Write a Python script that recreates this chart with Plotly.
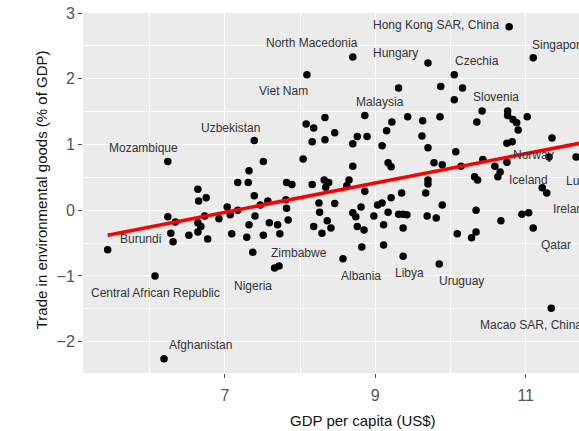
import plotly.graph_objects as go

# log GDP per capita (x) and trade in environmental goods, % of GDP (y)
gdp_log = [
    5.44, 6.07, 6.19, 6.24, 6.24, 6.34, 6.28, 6.31, 6.52, 6.64,
    6.65, 6.75, 6.64, 6.68, 6.64, 6.77, 6.73, 6.92, 7.03, 7.07,
    7.09, 7.17, 7.31, 7.17, 7.39, 7.40, 7.32, 7.29, 7.37, 7.51,
    7.59, 7.57, 7.70, 7.73, 7.82, 7.89, 7.81, 7.82, 7.84, 7.66,
    7.72, 7.39, 7.51, 7.32, 7.47, 8.09, 8.70, 8.33, 8.08, 8.18,
    8.46, 8.16, 8.33, 8.86, 8.76, 8.70, 8.89, 8.04, 8.70, 8.16,
    8.32, 8.38, 8.34, 8.65, 8.62, 8.86, 8.25, 8.46, 8.26, 8.36,
    8.18, 8.29, 8.41, 8.57, 8.70, 8.74, 8.81, 8.76, 8.85, 8.82,
    9.03, 8.98, 9.70, 9.31, 9.87, 10.05, 10.05, 9.22, 9.15, 9.43,
    9.63, 9.86, 9.62, 9.70, 9.09, 10.07, 9.17, 9.21, 9.78, 9.89,
    9.70, 9.70, 9.35, 9.67, 9.21, 9.11, 9.17, 9.11, 9.31, 9.37,
    9.42, 9.37, 9.37, 9.69, 9.81, 9.85, 9.89, 9.09, 10.14, 10.78,
    11.10, 10.16, 10.42, 10.35, 10.76, 10.76, 10.83, 10.88, 10.90, 11.02,
    10.75, 10.82, 11.35, 10.43, 10.59, 10.75, 10.66, 10.63, 10.32, 10.36,
    11.31, 11.67, 11.22, 11.28, 10.34, 10.09, 10.28, 10.34, 10.67, 10.95,
    11.04, 11.10, 11.34,
]
env_trade = [
    -0.60, -1.00, -2.26, 0.74, -0.10, -0.18, -0.35, -0.48, -0.38, 0.32,
    0.14, 0.19, -0.19, -0.25, -0.33, -0.44, -0.09, -0.13, 0.05, -0.07,
    -0.36, 0.42, 0.42, 0.00, 0.22, -0.09, -0.22, -0.41, -0.64, -0.38,
    -0.19, 0.14, -0.22, -0.36, 0.42, 0.39, 0.16, 0.03, -0.15, -0.88,
    -0.85, 1.06, 0.74, 0.60, 0.08, 2.06, 2.33, 1.41, 1.31, 1.25,
    1.18, 1.04, 1.07, 1.44, 1.12, 1.01, 1.12, 0.78, 0.67, 0.39,
    0.46, 0.42, 0.35, 0.46, 0.37, 0.29, 0.11, 0.10, -0.03, -0.16,
    -0.25, -0.35, -0.27, -0.74, -0.04, -0.10, 0.05, -0.25, -0.30, -0.56,
    0.08, -0.09, 2.24, 1.86, 1.88, 2.06, 1.68, 1.34, 1.21, 1.42,
    1.36, 1.42, 1.13, 0.95, 0.98, 0.89, 0.72, 0.66, 0.72, 0.69,
    0.46, 0.40, 0.26, 0.26, 0.19, -0.22, -0.03, -0.53, -0.06, -0.06,
    -0.07, -0.27, -0.70, -0.09, -0.12, -0.82, 0.08, 0.11, 0.67, 2.79,
    2.32, 1.86, 1.51, 1.34, 1.51, 1.44, 1.38, 1.33, 1.22, 1.42,
    1.02, 1.04, 1.10, 0.77, 0.67, 0.73, 0.58, 0.51, 0.51, 0.46,
    0.81, 0.81, 0.34, 0.26, 0.00, -0.36, -0.42, -0.33, -0.16, -0.06,
    -0.04, -0.27, -1.49,
]

# linear trend (lm fit) end points
trend_x = [5.44, 11.90]
trend_y = [-0.38, 1.06]

# country labels
label_names = [
    "Hong Kong SAR, China", "Singapore", "North Macedonia", "Hungary", "Czechia",
    "Viet Nam", "Malaysia", "Slovenia", "Uzbekistan", "Mozambique",
    "Norway", "Iceland", "Luxembourg", "Ireland", "Qatar",
    "Macao SAR, China", "Uruguay", "Libya", "Albania", "Zimbabwe",
    "Nigeria", "Central African Republic", "Burundi", "Afghanistan",
]
label_x = [
    9.81, 11.06, 8.16, 9.27, 10.35,
    7.78, 9.06, 10.60, 7.08, 5.92,
    10.80, 10.75, 11.51, 11.34, 11.40,
    10.36, 10.15, 9.46, 8.81, 7.98,
    7.37, 6.07, 5.88, 6.68,
]
label_y = [
    2.82, 2.52, 2.54, 2.39, 2.27,
    1.82, 1.64, 1.72, 1.25, 0.95,
    0.84, 0.46, 0.44, 0.02, -0.53,
    -1.74, -1.08, -0.95, -1.00, -0.65,
    -1.15, -1.26, -0.44, -2.05,
]
left_anchored = {"Singapore", "Norway", "Iceland", "Luxembourg", "Ireland", "Macao SAR, China"}

FONT = "Liberation Sans, Arial, sans-serif"

fig = go.Figure()
fig.add_trace(go.Scatter(
    x=gdp_log, y=env_trade, mode="markers",
    marker=dict(color="black", size=7.5, line=dict(width=0)),
    hoverinfo="skip", showlegend=False,
))
fig.add_trace(go.Scatter(
    x=trend_x, y=trend_y, mode="lines",
    line=dict(color="#FF0000", width=3.6),
    hoverinfo="skip", showlegend=False,
))

annotations = []
for name, lx, ly in zip(label_names, label_x, label_y):
    annotations.append(dict(
        x=lx, y=ly, xref="x", yref="y", text=name, showarrow=False,
        xanchor="left" if name in left_anchored else "center", yanchor="middle",
        font=dict(family=FONT, size=12, color="#333333"),
    ))

# axis titles
annotations.append(dict(
    x=0.565, y=-0.131, xref="paper", yref="paper", text="GDP per capita (US$)",
    showarrow=False, xanchor="center", yanchor="middle",
    font=dict(family=FONT, size=15, color="#111111"),
))
annotations.append(dict(
    x=-0.083, y=0.51, xref="paper", yref="paper",
    text="Trade in environmental goods (% of GDP)", textangle=-90,
    showarrow=False, xanchor="center", yanchor="middle",
    font=dict(family=FONT, size=15, color="#111111"),
))

axis_common = dict(
    showgrid=True, gridcolor="white", gridwidth=1.3,
    zeroline=False, showline=False,
    ticks="outside", ticklen=4, tickwidth=1, tickcolor="#4D4D4D",
    tickfont=dict(family=FONT, size=16, color="#555555"),
)

fig.update_layout(
    width=579, height=431,
    margin=dict(l=83, r=0, t=13, b=58),
    paper_bgcolor="white", plot_bgcolor="#EBEBEB",
    xaxis=dict(range=[5.112, 11.709], tick0=7, dtick=2, ticklabelstandoff=4,
               minor=dict(dtick=1, showgrid=True, gridcolor="white", gridwidth=0.6),
               **axis_common),
    yaxis=dict(range=[-2.477, 3.0], tick0=0, dtick=1,
               minor=dict(dtick=0.5, showgrid=True, gridcolor="white", gridwidth=0.6),
               **axis_common),
    annotations=annotations,
)

fig.write_html("out.html")
